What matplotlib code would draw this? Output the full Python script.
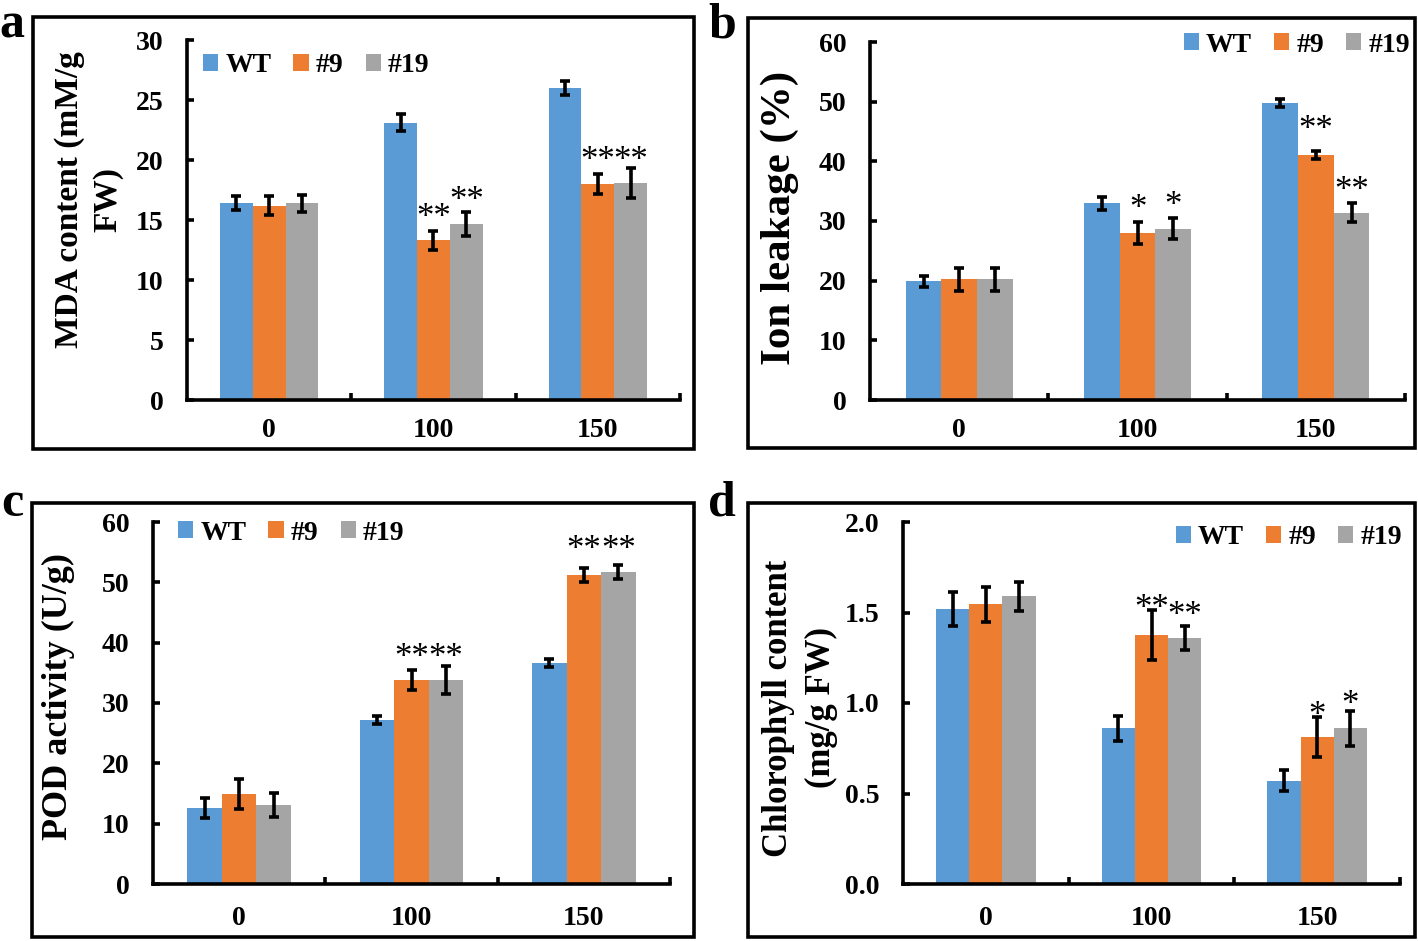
import matplotlib
matplotlib.use('Agg')
import matplotlib.pyplot as plt
from matplotlib.patches import Rectangle
import numpy as np

plt.rcParams['font.family'] = ['Liberation Serif', 'DejaVu Serif']
plt.rcParams['font.weight'] = 'bold'

categories = ['0', '100', '150']
series = ['WT', '#9', '#19']
colors = ['#5B9BD5', '#ED7D31', '#A5A5A5']

# Panel a: MDA content
mda_wt = [16.4, 23.1, 26.0]
mda_9 = [16.2, 13.3, 18.0]
mda_19 = [16.4, 14.7, 18.1]
mda_wt_err = [0.6, 0.7, 0.55]
mda_9_err = [0.8, 0.8, 0.85]
mda_19_err = [0.7, 1.0, 1.25]
mda_stars = [(1, 1, '**', 14.4), (1, 2, '**', 15.8), (2, 1, '**', 19.15), (2, 2, '**', 19.15)]

# Panel b: Ion leakage
ion_wt = [19.9, 33.0, 49.8]
ion_9 = [20.2, 28.0, 41.1]
ion_19 = [20.2, 28.7, 31.4]
ion_wt_err = [0.9, 1.1, 0.7]
ion_9_err = [1.9, 1.8, 0.7]
ion_19_err = [1.9, 1.75, 1.55]
ion_stars = [(1, 1, '*', 30.5), (1, 2, '*', 31.0), (2, 1, '**', 43.7), (2, 2, '**', 33.6)]

# Panel c: POD activity
pod_wt = [12.6, 27.2, 36.6]
pod_9 = [14.9, 33.8, 51.2]
pod_19 = [13.1, 33.8, 51.7]
pod_wt_err = [1.7, 0.7, 0.7]
pod_9_err = [2.45, 1.65, 1.2]
pod_19_err = [2.0, 2.3, 1.1]
pod_stars = [(1, 1, '**', 36.0), (1, 2, '**', 36.0), (2, 1, '**', 53.9), (2, 2, '**', 53.9)]

# Panel d: Chlorophyll content
chl_wt = [1.52, 0.86, 0.57]
chl_9 = [1.545, 1.376, 0.81]
chl_19 = [1.59, 1.36, 0.86]
chl_wt_err = [0.095, 0.07, 0.058]
chl_9_err = [0.095, 0.14, 0.11]
chl_19_err = [0.08, 0.065, 0.095]
chl_stars = [(1, 1, '**', 1.47), (1, 2, '**', 1.43), (2, 1, '*', 0.88), (2, 2, '*', 0.937)]

W, H = 1418, 941
fig = plt.figure(figsize=(W / 100, H / 100), dpi=100)


def px(x0, y_top, x1, y_bot):
    return [x0 / W, 1 - y_bot / H, (x1 - x0) / W, (y_bot - y_top) / H]


def panel(rect, vals, errs, stars, ylim, yticks, ytickfmt, ylabel, ylabel_pos, ylabel_size,
          ylabel_ls, leg_loc, leg_anchor, xpad):
    ax = fig.add_axes(rect)
    x = np.arange(len(categories))
    bw = 0.2
    for i, (v, e) in enumerate(zip(vals, errs)):
        xs = x + (i - 1) * bw
        ax.bar(xs, v, width=bw, color=colors[i], linewidth=0, label=series[i], zorder=2)
        ax.errorbar(xs, v, yerr=e, fmt='none', ecolor='black', elinewidth=2.6,
                    capsize=3.5, capthick=2.6, zorder=3)
    for ci, si, s, y in stars:
        ax.text(ci + (si - 1) * bw, y, s, ha='center', va='baseline', fontsize=25,
                fontweight='normal', clip_on=False, zorder=4)
    ax.set_xlim(-0.5, 2.5)
    ax.set_ylim(*ylim)
    ax.set_yticks(yticks)
    ax.set_yticklabels([ytickfmt.format(t) for t in yticks], fontsize=20, fontweight='bold')
    ax.set_xticks(x)
    ax.set_xticklabels(categories, fontsize=20, fontweight='bold')
    ax.set_xticks([0.5, 1.5, 2.5], minor=True)
    ax.tick_params(axis='x', which='major', length=0, pad=xpad)
    ax.tick_params(axis='x', which='minor', direction='in', length=5, width=2.6)
    ax.tick_params(axis='y', direction='in', length=5, width=2.6, pad=17)
    for sp in ['top', 'right']:
        ax.spines[sp].set_visible(False)
    for sp in ['left', 'bottom']:
        ax.spines[sp].set_linewidth(2.6)
    fig.text(ylabel_pos[0] / W, 1 - ylabel_pos[1] / H, ylabel, rotation=90, ha='center',
             va='center', multialignment='center', fontsize=ylabel_size, fontweight='bold',
             linespacing=ylabel_ls)
    ax.legend(loc=leg_loc, bbox_to_anchor=(leg_anchor[0] / W, 1 - leg_anchor[1] / H),
              bbox_transform=fig.transFigure, ncol=3, frameon=False,
              prop={'weight': 'bold', 'size': 20}, handlelength=0.55, handleheight=0.55,
              handletextpad=0.25, columnspacing=0.8, borderpad=0, borderaxespad=0)
    return ax


panel(px(187, 40, 680, 400), [mda_wt, mda_9, mda_19], [mda_wt_err, mda_9_err, mda_19_err],
      mda_stars, (0, 30), [0, 5, 10, 15, 20, 25, 30], '{:g}', 'MDA content (mM/g\nFW)',
      (89, 200), 24, 1.3, 'center left', (203, 66), 13)
panel(px(870, 42, 1405, 400), [ion_wt, ion_9, ion_19], [ion_wt_err, ion_9_err, ion_19_err],
      ion_stars, (0, 60), [0, 10, 20, 30, 40, 50, 60], '{:g}', 'Ion leakage (%)',
      (780, 218), 31, 1.2, 'center right', (1410, 45), 13)
panel(px(153, 522, 670, 884), [pod_wt, pod_9, pod_19], [pod_wt_err, pod_9_err, pod_19_err],
      pod_stars, (0, 60), [0, 10, 20, 30, 40, 50, 60], '{:g}', 'POD activity (U/g)',
      (58, 696), 26, 1.2, 'center left', (178, 533), 16)
panel(px(903, 522, 1400, 884), [chl_wt, chl_9, chl_19], [chl_wt_err, chl_9_err, chl_19_err],
      chl_stars, (0, 2.0), [0, 0.5, 1.0, 1.5, 2.0], '{:.1f}', 'Chlorophyll content\n(mg/g FW)',
      (800, 708), 25, 1.4, 'center right', (1402, 538), 16)

# panel frames
for (x0, y0, x1, y1) in [(33, 17, 694, 449), (748, 18, 1415, 448),
                         (32, 503, 694, 937), (748, 503, 1415, 937)]:
    fig.patches.append(Rectangle((x0 / W, 1 - y1 / H), (x1 - x0) / W, (y1 - y0) / H,
                                 transform=fig.transFigure, fill=False, edgecolor='black',
                                 linewidth=2.6))

for letter, (lx, ly) in zip('abcd', [(12, 3), (722, 3), (12, 481), (722, 481)]):
    fig.text(lx / W, 1 - ly / H, letter, ha='center', va='top', fontsize=36,
             fontweight='bold')

fig.savefig('out.png', dpi=100)
